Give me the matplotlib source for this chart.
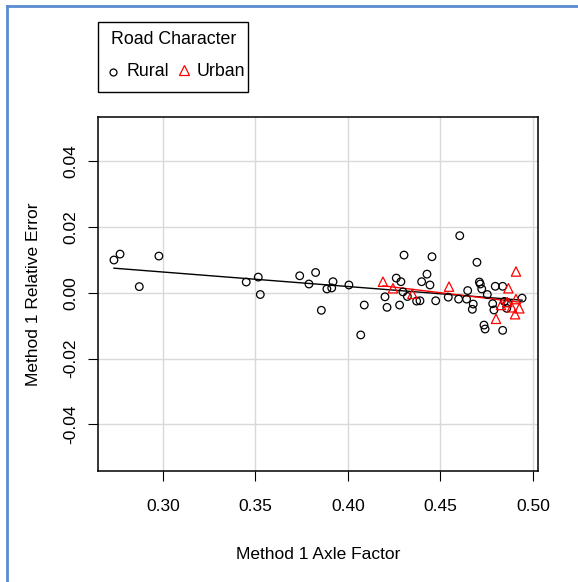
import matplotlib
matplotlib.use("Agg")
import matplotlib.pyplot as plt
from matplotlib.lines import Line2D
from matplotlib.patches import Rectangle
import numpy as np

plt.rcParams["font.family"] = ["Liberation Sans", "DejaVu Sans"]
plt.rcParams["font.size"] = 12.5

# Rural sites
rural_x = [0.2735, 0.2768, 0.2978, 0.2872, 0.3450, 0.3515, 0.3526,
           0.4303, 0.3739, 0.3825, 0.3789, 0.3919, 0.3912, 0.3886, 0.4005,
           0.3856, 0.4069, 0.4088, 0.4261, 0.4286, 0.4200, 0.4211, 0.4279,
           0.4297, 0.4321, 0.4371, 0.4427, 0.4398,
           0.4604, 0.4454, 0.4697, 0.4443, 0.4389, 0.4474, 0.4542, 0.4598,
           0.4647, 0.4641, 0.4677, 0.4672, 0.4710, 0.4715, 0.4723, 0.4753,
           0.4796, 0.4836, 0.4782, 0.4789, 0.4735, 0.4741, 0.4836, 0.4845,
           0.4863, 0.4941, 0.4858]
rural_y = [0.0100, 0.0118, 0.0112, 0.0019, 0.0033, 0.0048, -0.0005,
           0.0115, 0.0052, 0.0062, 0.0027, 0.0034, 0.0015, 0.0012, 0.0024,
           -0.0053, -0.0128, -0.0037, 0.0045, 0.0034, -0.0012, -0.0044, -0.0037,
           0.0003, -0.0011, -0.0025, 0.0057, 0.0034,
           0.0174, 0.0110, 0.0093, 0.0024, -0.0024, -0.0024, -0.0013, -0.0019,
           0.0007, -0.0019, -0.0034, -0.0050, 0.0033, 0.0027, 0.0012, -0.0005,
           0.0020, 0.0020, -0.0033, -0.0052, -0.0098, -0.0110, -0.0114, -0.0026,
           -0.0030, -0.0016, -0.0047]

# Urban sites
urban_x = [0.4189, 0.4243, 0.4348, 0.4546, 0.4908, 0.4867, 0.4908,
           0.4827, 0.4885, 0.4926, 0.4903, 0.4800, 0.4861]
urban_y = [0.0034, 0.0014, -0.0003, 0.0019, 0.0065, 0.0014, -0.0019,
           -0.0037, -0.0044, -0.0047, -0.0065, -0.0079, -0.0028]

x_ticks = [0.30, 0.35, 0.40, 0.45, 0.50]
y_ticks = [-0.04, -0.02, 0.00, 0.02, 0.04]

fig = plt.figure(figsize=(5.78, 5.82), dpi=100)
ax = fig.add_axes([0.1696, 0.1907, 0.7612, 0.6082])

for v in x_ticks:
    ax.axvline(v, color="#d9d9d9", lw=1, zorder=0)
for v in y_ticks:
    ax.axhline(v, color="#d9d9d9", lw=1, zorder=0)

ax.scatter(rural_x, rural_y, s=30, facecolors="none", edgecolors="black",
           linewidths=0.9, zorder=3)
ax.scatter(urban_x, urban_y, s=45, marker="^", facecolors="none",
           edgecolors="red", linewidths=0.9, zorder=3)

# linear fits per group
for xs, ys, col in [(rural_x, rural_y, "black"), (urban_x, urban_y, "red")]:
    b, a = np.polyfit(xs, ys, 1)
    xx = np.array([min(xs), max(xs)])
    ax.plot(xx, a + b * xx, color=col, lw=1, zorder=2)

ax.set_xlim(0.2649, 0.5027)
ax.set_ylim(-0.0542, 0.0535)
ax.set_xticks(x_ticks)
ax.set_xticklabels(["%.2f" % v for v in x_ticks])
ax.set_yticks(y_ticks)
ax.set_yticklabels(["%.2f" % v for v in y_ticks], rotation=90, va="center")
ax.tick_params(axis="x", direction="out", length=7, width=0.8, pad=13)
ax.tick_params(axis="y", direction="out", length=7, width=0.8, pad=7)
for s in ax.spines.values():
    s.set_linewidth(1.1)

ax.set_xlabel("Method 1 Axle Factor", labelpad=24)
ax.set_ylabel("Method 1 Relative Error", labelpad=16)

# legend box above the plot
fig.add_artist(Rectangle((0.1696, 0.8419), 0.2595, 0.1203, transform=fig.transFigure,
                         facecolor="white", edgecolor="black", lw=1))
fig.text(0.301, 0.9313, "Road Character", ha="center", va="center", fontsize=12.8)
fig.add_artist(Line2D([0.1955], [0.8763], transform=fig.transFigure, marker="o",
                      ls="none", mfc="none", mec="black", ms=5, mew=0.9))
fig.text(0.2197, 0.8763, "Rural", ha="left", va="center", fontsize=12.8)
fig.add_artist(Line2D([0.3183], [0.8797], transform=fig.transFigure, marker="^",
                      ls="none", mfc="none", mec="red", ms=7, mew=0.9))
fig.text(0.3408, 0.8763, "Urban", ha="left", va="center", fontsize=12.8)

# page border (top and left)
fig.add_artist(Line2D([0.012, 1.0], [0.990, 0.990], transform=fig.transFigure,
                      color="#5b8bd0", lw=2))
fig.add_artist(Line2D([0.012, 0.012], [0.0, 0.990], transform=fig.transFigure,
                      color="#5b8bd0", lw=2))

fig.savefig("out.png", dpi=100)
